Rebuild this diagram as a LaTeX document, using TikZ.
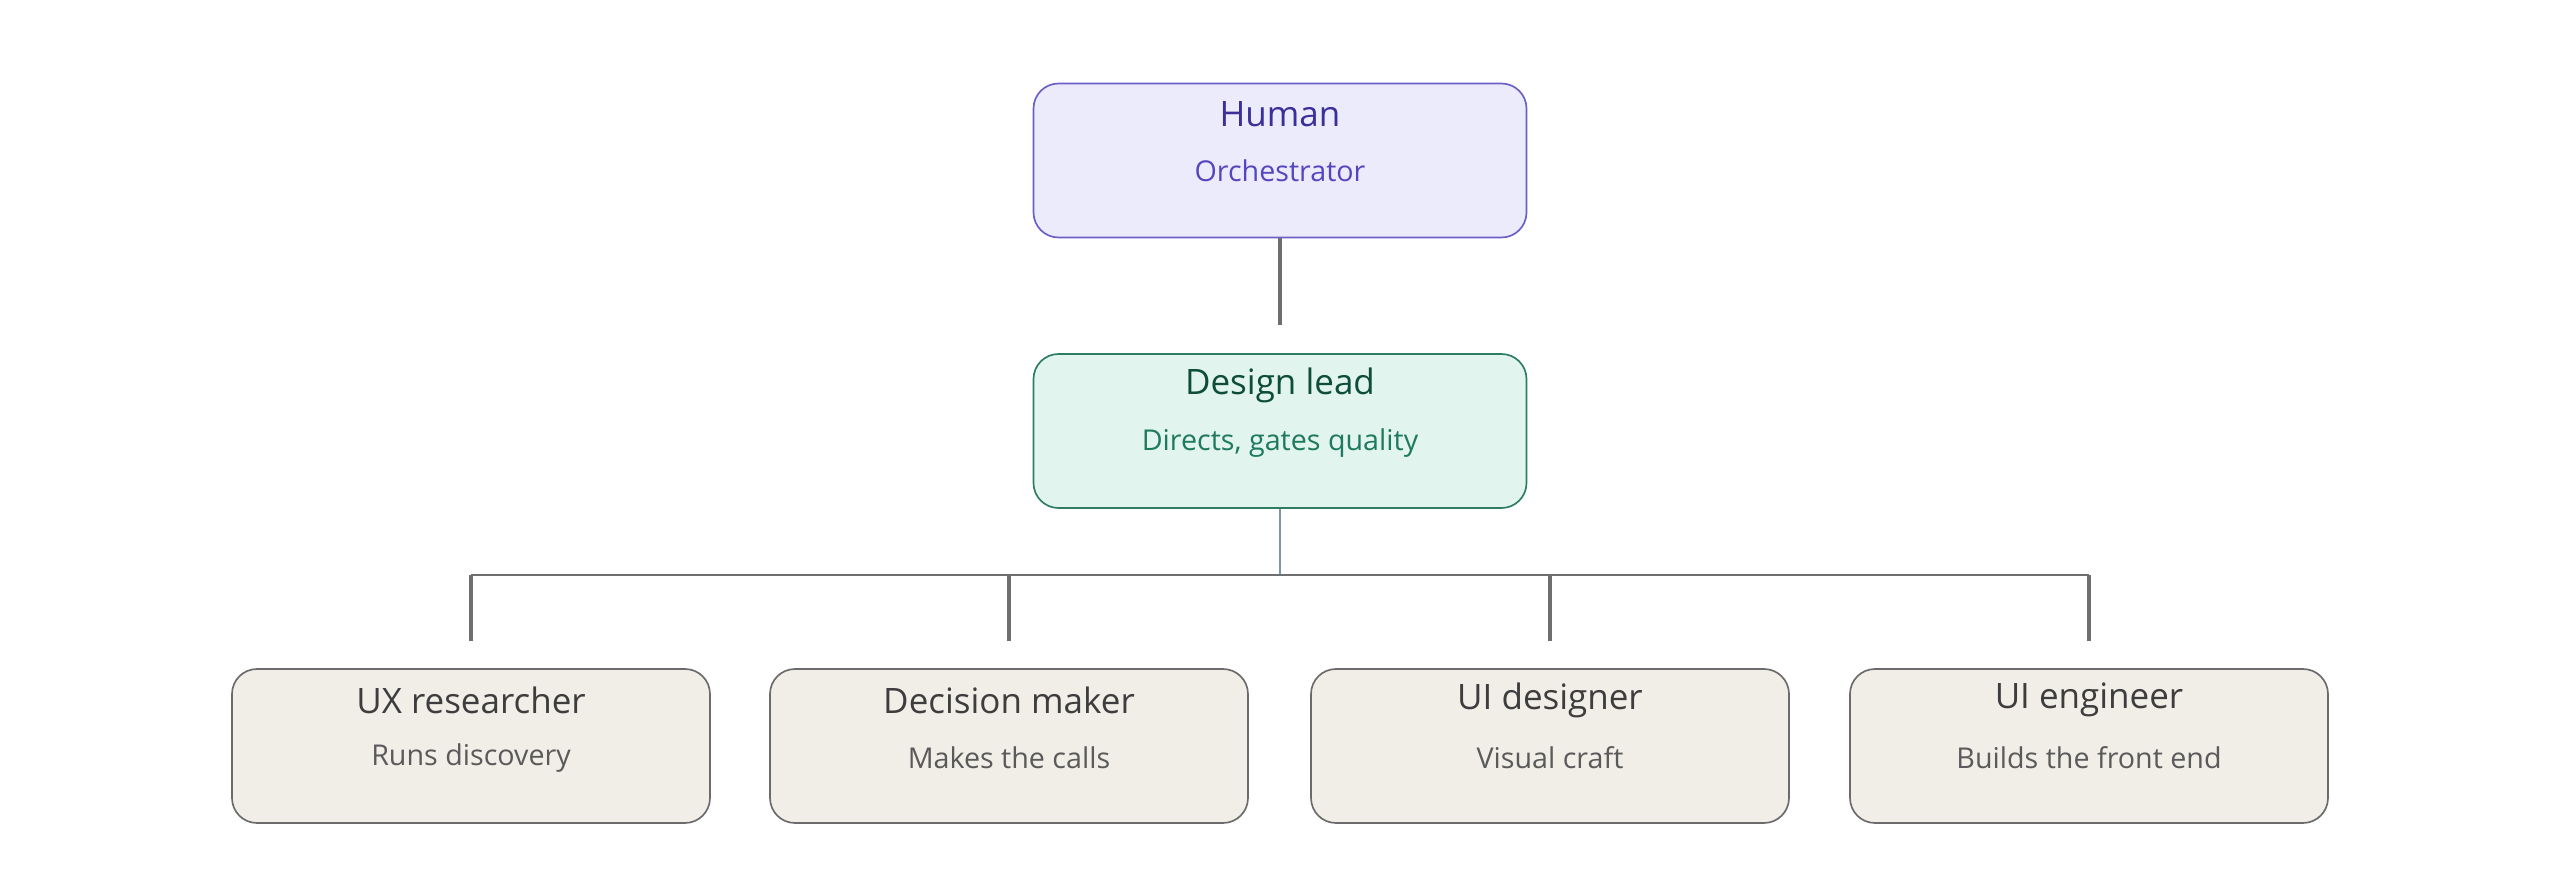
\documentclass[tikz,border=0pt]{standalone}
\usepackage{fontspec}
\setmainfont{Open Sans}
\definecolor{hfill}{HTML}{ECEBFB}\definecolor{hdraw}{HTML}{6A5FC8}
\definecolor{lfill}{HTML}{E1F4EE}\definecolor{ldraw}{HTML}{2E7D62}
\definecolor{rfill}{HTML}{F1EEE8}\definecolor{rdraw}{HTML}{6B6B6B}
\definecolor{lnc}{HTML}{6F6F6F}\definecolor{lnb}{HTML}{7F95A8}
\definecolor{ht}{HTML}{3B2F9A}\definecolor{hs}{HTML}{5546C0}
\definecolor{lt}{HTML}{0E4D3A}\definecolor{ls}{HTML}{1E7A5E}
\definecolor{rt}{HTML}{3D3D3D}\definecolor{rs}{HTML}{5A5A5A}
\begin{document}
\begin{tikzpicture}[x=0.3pt,y=-0.3pt,
 box/.style={draw,rounded corners=7.5pt,minimum width=147.9pt,minimum height=46.2pt,line width=0.5pt},
 hum/.style={box,fill=hfill,draw=hdraw},
 lead/.style={box,fill=lfill,draw=ldraw},
 role/.style={box,fill=rfill,draw=rdraw,minimum width=143.4pt},
 ttl/.style={font=\fontsize{10.5}{12}\selectfont},
 sub/.style={font=\fontsize{8.6}{10}\selectfont},
 thick/.style={draw=lnc,line width=1pt},
 thin/.style={draw=lnc,line width=0.45pt}]
\useasboundingbox (0,0) rectangle (2560,885);
\node[hum] (human) at (1280,160.5) {};
\node[ttl,text=ht] at (1280,114) {Human};
\node[sub,text=hs] at (1280,171) {Orchestrator};
\node[lead] (lead) at (1280,431) {};
\node[ttl,text=lt] at (1280,385) {Design lead};
\node[sub,text=ls] at (1280,443) {Directs, gates quality};
\foreach \n/\x/\t/\s in {ux/471/UX researcher/Runs discovery,dm/1009/Decision maker/Makes the calls,uid/1550/UI designer/Visual craft,uie/2089/UI engineer/Builds the front end}{
 \node[role] (\n) at (\x,746) {};
 \node[ttl,text=rt] at (\x,700) {\t};
 \node[sub,text=rs] at (\x,758) {\s};
}
\coordinate (hc) at (1280,325);
\coordinate (bus) at (1280,575);
\draw[thick] (human.south) -- (hc);
\draw[thin,draw=lnb] (lead.south) -- (bus);
\draw[thin] (ux.north |- bus) -- (uie.north |- bus);
\foreach \n in {ux,dm,uid,uie}{
 \coordinate (\n t) at ([yshift=8.1pt]\n.north);
 \draw[thick] (\n.north |- bus) -- (\n t);
}
\end{tikzpicture}
\end{document}
